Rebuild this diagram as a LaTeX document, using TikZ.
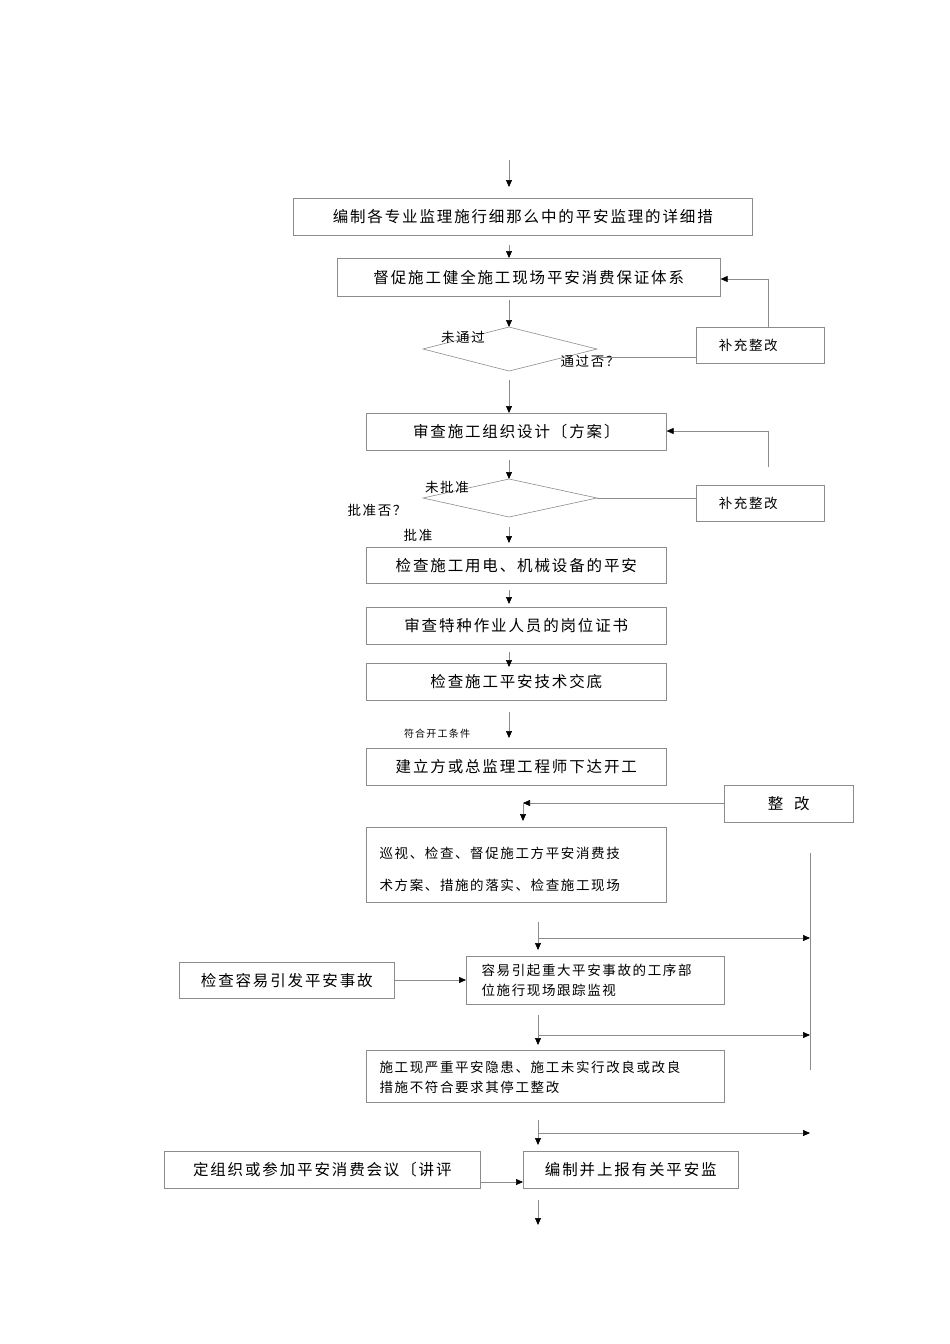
\documentclass[tikz,border=0pt]{standalone}
\usepackage{fontspec}
\setmainfont{Noto Sans CJK SC}[LetterSpace=12]
\usetikzlibrary{arrows.meta}
\begin{document}
\begin{tikzpicture}[x=1pt,y=-1pt,
  bx/.style={draw=black!45,line width=0.6pt,inner sep=0pt,anchor=north west},
  ln/.style={draw=black!45,line width=0.6pt},
  ar/.style={ln,-{Triangle[length=7pt,width=6pt,fill=black,color=black]}},
  tx/.style={font=\fontsize{15.5}{18}\selectfont},
  sm/.style={font=\fontsize{13.5}{16}\selectfont}]
\useasboundingbox (0,0) rectangle (950,1344);
\newcommand\bxx[6]{\node[bx,minimum width=#4-#2 pt,minimum height=#5-#3 pt] (#1) at (#2,#3) {}; \node[tx,anchor=center] at (#1.center) {#6};}
\bxx{b1}{293}{198}{752}{235}{编制各专业监理施行细那么中的平安监理的详细措}
\bxx{b2}{337}{258}{720}{296}{督促施工健全施工现场平安消费保证体系}
\bxx{b3}{366}{413}{666}{450}{审查施工组织设计〔方案〕}
\bxx{b4}{366}{547}{666}{583}{检查施工用电、机械设备的平安}
\bxx{b5}{366}{607}{666}{644}{审查特种作业人员的岗位证书}
\bxx{b6}{366}{663}{666}{700}{检查施工平安技术交底}
\bxx{b7}{366}{748}{666}{785}{建立方或总监理工程师下达开工}
\node[bx,minimum width=128pt,minimum height=36pt] (r1) at (696,327) {};
\node[sm] at (r1.center) {\hspace*{-24pt}补充整改};
\node[bx,minimum width=128pt,minimum height=36pt] (r2) at (696,485) {};
\node[sm] at (r2.center) {\hspace*{-24pt}补充整改};
\node[bx,minimum width=129pt,minimum height=37pt] (zg) at (724,785) {};
\node[tx] at (zg.center) {整\ \ 改};
\node[bx,minimum width=300pt,minimum height=75pt] (b8) at (366,827) {};
\node[sm,anchor=west] at (376,853) {巡视、检查、督促施工方平安消费技};
\node[sm,anchor=west] at (376,885) {术方案、措施的落实、检查施工现场};
\node[bx,minimum width=258pt,minimum height=48pt] (b9) at (466,956) {};
\node[sm,anchor=west] at (478,970) {容易引起重大平安事故的工序部};
\node[sm,anchor=west] at (478,990) {位施行现场跟踪监视};
\bxx{b10}{179}{962}{394}{998}{检查容易引发平安事故}
\node[bx,minimum width=358pt,minimum height=52pt] (b11) at (366,1050) {};
\node[sm,anchor=west] at (376,1067) {施工现严重平安隐患、施工未实行改良或改良};
\node[sm,anchor=west] at (376,1087) {措施不符合要求其停工整改};
\bxx{b12}{523}{1151}{738}{1188}{编制并上报有关平安监}
\bxx{b13}{164}{1151}{480}{1188}{定组织或参加平安消费会议〔讲评}
% diamonds
\draw[ln] (509,327) coordinate (d1t) -- (597,349) coordinate (d1r) -- (509,371) coordinate (d1b) -- (423,349) -- cycle;
\draw[ln] (509,479) coordinate (d2t) -- (597,498) coordinate (d2r) -- (509,517) coordinate (d2b) -- (423,498) -- cycle;
\node[sm] at (463,337) {未通过};
\node[sm] at (590,361) {通过否？};
\node[sm] at (447,487) {未批准};
\node[sm] at (377,510) {批准否？};
\node[sm] at (418,535) {批准};
\node[font=\fontsize{10}{12}\selectfont] at (437,734) {符合开工条件};
% arrows
\draw[ar] (509,160) -- (509,187);
\draw[ar] (509,245) -- (509,258);
\draw[ar] (509,300) -- (d1t);
\draw[ln] (597,357) -- (696,357);
\draw[ln] (768,327) -- (768,279) coordinate (f1);
\draw[ar] (f1) -- (b2.east |- f1);
\draw[ar] (509,380) -- (509,413);
\draw[ln] (768,467) -- (768,431) coordinate (f2);
\draw[ar] (f2) -- (b3.east |- f2);
\draw[ar] (509,460) -- (d2t);
\draw[ln] (d2r) -- (r2.west |- d2r);
\draw[ar] (509,527) -- (509,543);
\draw[ar] (509,590) -- (509,604);
\draw[ar] (509,652) -- (509,667);
\draw[ar] (509,712) -- (509,738);
\draw[ar] (zg.west |- 0,803) -- (523,803);
\draw[ar] (523,803) -- (523,821);
\draw[ln] (810,853) -- (810,1070);
\draw[ar] (538,922) -- (538,950);
\draw[ar] (538,938) -- (810,938);
\draw[ar] (b10.east |- 0,980) -- (b9.west |- 0,980);
\draw[ar] (538,1015) -- (538,1045);
\draw[ar] (538,1035) -- (810,1035);
\draw[ar] (538,1120) -- (538,1145);
\draw[ar] (538,1133) -- (810,1133);
\draw[ar] (b13.east |- 0,1182) -- (b12.west |- 0,1182);
\draw[ar] (538,1200) -- (538,1225);
\end{tikzpicture}
\end{document}
